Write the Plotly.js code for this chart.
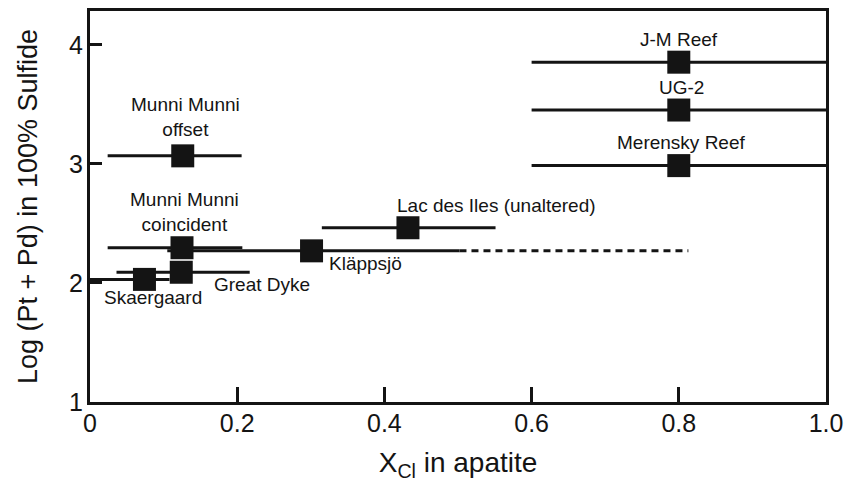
<!DOCTYPE html>
<html>
<head>
<meta charset="utf-8">
<script src="https://cdn.plot.ly/plotly-3.0.1.min.js"></script>
<style>
  html, body { margin: 0; padding: 0; background: #ffffff; }
  #chart { width: 850px; height: 488px; }
</style>
</head>
<body>
<div id="chart"></div>
<script>
// ---- data ----
const deposits = ['J-M Reef', 'UG-2', 'Merensky Reef', 'Munni Munni<br>offset', 'Munni Munni<br>coincident',
                  'Lac des Iles (unaltered)', 'Kläppsjö', 'Great Dyke', 'Skaergaard'];
const xCl      = [0.800, 0.800, 0.800, 0.126, 0.125, 0.432, 0.301, 0.124, 0.074];
const logPtPd  = [3.855, 3.453, 2.986, 3.068, 2.296, 2.464, 2.270, 2.090, 2.030];
const xErrMinus = [0.200, 0.200, 0.200, 0.102, 0.101, 0.117, 0.196, 0.088, 0.074];
const xErrPlus  = [0.200, 0.200, 0.200, 0.080, 0.082, 0.119, 0.201, 0.093, 0.034];
// Kläppsjö dashed extension of the range
const klappsjoDashX = [0.502, 0.813];
const klappsjoDashY = [2.270, 2.270];

const xTickVals = [0, 0.2, 0.4, 0.6, 0.8, 1.0];
const xTickText = ['0', '0.2', '0.4', '0.6', '0.8', '1.0'];
const yTickVals = [1, 2, 3, 4];
const yTickText = ['1', '2', '3', '4'];

// ---- label placement (pixel offsets from each marker) ----
const labelStyle = {
  'J-M Reef':                 {xanchor: 'center', dx: 0,    dy: 23},
  'UG-2':                     {xanchor: 'center', dx: 2.5,  dy: 23},
  'Merensky Reef':            {xanchor: 'center', dx: 2,    dy: 22.7},
  'Munni Munni<br>offset':    {xanchor: 'center', dx: 2.3,  dy: 39},
  'Munni Munni<br>coincident':{xanchor: 'center', dx: 2.7,  dy: 36},
  'Lac des Iles (unaltered)': {xanchor: 'left',   dx: -11.6, dy: 22.7},
  'Kläppsjö':                 {xanchor: 'left',   dx: 16.7, dy: -12.8},
  'Great Dyke':               {xanchor: 'left',   dx: 31.3, dy: -12.2},
  'Skaergaard':               {xanchor: 'center', dx: 8.5,  dy: -18.3}
};

const ink = '#141414';
const fontFam = 'Liberation Sans, Arial, Helvetica, sans-serif';

const traces = [
  {
    type: 'scatter', mode: 'lines',
    x: klappsjoDashX, y: klappsjoDashY,
    line: {color: ink, width: 3, dash: '7px,5px'},
    hoverinfo: 'skip', showlegend: false
  },
  {
    type: 'scatter', mode: 'markers',
    x: xCl, y: logPtPd,
    marker: {symbol: 'square', size: 23, color: ink, line: {width: 0}},
    error_x: {type: 'data', symmetric: false, array: xErrPlus, arrayminus: xErrMinus,
              width: 0, thickness: 3, color: ink},
    text: deposits, hoverinfo: 'text+x+y', showlegend: false
  }
];

const annotations = deposits.map((name, i) => {
  const s = labelStyle[name];
  return {
    x: xCl[i], y: logPtPd[i], xref: 'x', yref: 'y',
    text: name, showarrow: false,
    xanchor: s.xanchor, yanchor: 'middle',
    xshift: s.dx, yshift: s.dy, borderpad: 0,
    font: {family: fontFam, size: 19, color: ink}
  };
});

const layout = {
  width: 850, height: 488,
  margin: {l: 90, r: 24, t: 11, b: 86},
  paper_bgcolor: '#ffffff', plot_bgcolor: '#ffffff',
  showlegend: false,
  font: {family: fontFam, color: ink},
  xaxis: {
    range: [0, 1.0], autorange: false,
    tickmode: 'array', tickvals: xTickVals, ticktext: xTickText,
    ticks: 'inside', ticklen: 15, tickwidth: 3, tickcolor: ink,
    showline: true, linewidth: 3, linecolor: ink, mirror: true,
    showgrid: false, zeroline: false,
    tickfont: {family: fontFam, size: 25, color: ink},
    ticklabelstandoff: -3,
    title: {text: 'X<sub>Cl</sub> in apatite', font: {family: fontFam, size: 28, color: ink}, standoff: 17},
    automargin: false
  },
  yaxis: {
    range: [1, 4.285], autorange: false,
    tickmode: 'array', tickvals: yTickVals, ticktext: yTickText,
    ticks: 'inside', ticklen: 12, tickwidth: 3, tickcolor: ink,
    showline: true, linewidth: 3, linecolor: ink, mirror: true,
    showgrid: false, zeroline: false,
    tickfont: {family: fontFam, size: 25, color: ink},
    ticklabelstandoff: -1,
    title: {text: 'Log (Pt + Pd) in 100% Sulfide', font: {family: fontFam, size: 27, color: ink}, standoff: 24},
    automargin: false
  },
  annotations: annotations
};

Plotly.newPlot('chart', traces, layout, {staticPlot: true, displayModeBar: false});
</script>
</body>
</html>
